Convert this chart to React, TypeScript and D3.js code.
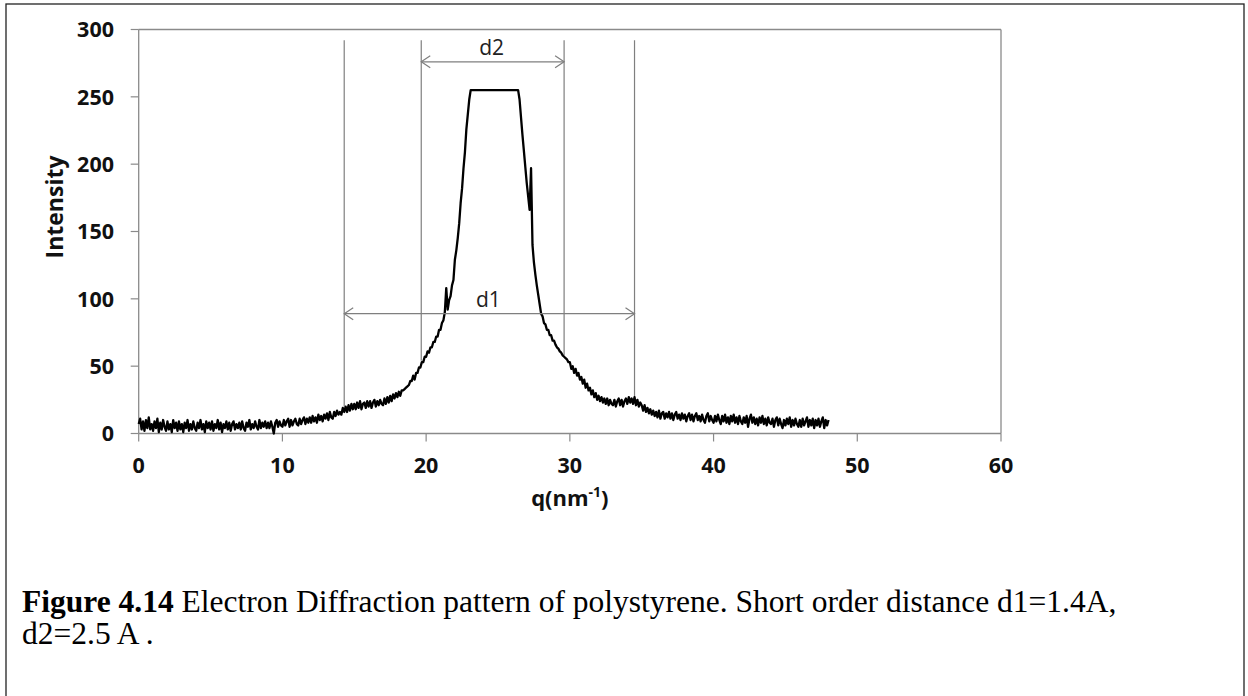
import React from "react";
import * as d3 from "d3";

// ---------- data ----------
const xTicks = [0, 10, 20, 30, 40, 50, 60];
const yTicks = [0, 50, 100, 150, 200, 250, 300];
const qStart = 0;
const qStepSize = 0.1;
const intensity = [
  7, 11, 3, 9, 2, 10, 4, 12, 3, 7,
  2, 9, 4, 11, 1, 8, 3, 10, 5, 2,
  9, 3, 7, 1, 10, 4, 8, 2, 9, 3,
  7, 1, 8, 4, 10, 2, 7, 3, 9, 4,
  2, 8, 4, 10, 3, 7, 1, 9, 4, 8,
  3, 9, 2, 7, 4, 10, 3, 8, 1, 7,
  4, 9, 3, 8, 2, 7, 9, 3, 7, 4,
  8, 3, 9, 4, 2, 8, 5, 10, 3, 7,
  4, 9, 5, 3, 10, 4, 8, 5, 9, 4,
  8, 4, 9, 5, 0, 8, 10, 5, 9, 6,
  5, 10, 6, 9, 11, 5, 10, 6, 9, 11,
  7, 6, 11, 7, 10, 12, 7, 11, 8, 12,
  8, 13, 9, 12, 8, 14, 10, 13, 9, 14,
  11, 15, 10, 16, 12, 11, 16, 13, 17, 14,
  16, 14, 19, 16, 20, 16, 21, 17, 22, 18,
  22, 18, 23, 19, 24, 18, 22, 23, 19, 24,
  20, 24, 19, 23, 25, 20, 24, 21, 25, 22,
  21, 26, 22, 27, 23, 28, 24, 29, 26, 30,
  27, 31, 28, 32, 32, 33, 34, 35, 36, 39,
  39, 43, 40, 45, 45, 49, 49, 53, 53, 57,
  57, 61, 60, 64, 64, 68, 68, 72, 72, 77,
  77, 82, 84, 90, 108, 92, 99, 102, 110, 114,
  129, 136, 145, 156, 171, 182, 197, 209, 226, 237,
  248, 255, 255, 255, 255, 255, 255, 255, 255, 255,
  255, 255, 255, 255, 255, 255, 255, 255, 255, 255,
  255, 255, 255, 255, 255, 255, 255, 255, 255, 255,
  255, 255, 255, 255, 255, 248, 235, 222, 210, 198,
  186, 176, 166, 197, 140, 127, 118, 110, 103, 96,
  89, 87, 82, 81, 77, 77, 73, 73, 69, 69,
  66, 64, 63, 61, 60, 58, 57, 56, 55, 53,
  53, 48, 50, 45, 48, 43, 45, 40, 42, 37,
  40, 34, 37, 32, 34, 29, 32, 27, 30, 25,
  28, 24, 27, 23, 26, 22, 26, 21, 25, 22,
  21, 25, 20, 24, 26, 21, 25, 20, 24, 26,
  22, 27, 23, 26, 22, 27, 21, 25, 20, 23,
  21, 17, 21, 16, 19, 15, 18, 14, 17, 13,
  16, 12, 17, 11, 15, 16, 11, 15, 12, 16,
  11, 15, 10, 14, 16, 11, 14, 10, 15, 11,
  14, 9, 13, 15, 10, 14, 9, 13, 15, 10,
  13, 9, 14, 10, 8, 13, 15, 9, 13, 10,
  8, 13, 9, 14, 10, 7, 13, 9, 14, 8,
  12, 7, 13, 9, 14, 8, 12, 7, 13, 9,
  7, 12, 8, 13, 5, 11, 14, 8, 12, 7,
  11, 6, 12, 8, 13, 7, 11, 6, 12, 8,
  7, 11, 5, 10, 12, 6, 11, 7, 4, 10,
  6, 11, 7, 12, 5, 10, 6, 11, 7, 5,
  10, 5, 11, 6, 9, 12, 5, 10, 6, 11,
  4, 10, 6, 11, 5, 9, 12, 4, 10, 6,
  10,
];
// vertical marker lines: q position, value where they meet the curve
const markerQ = [14.3, 19.66, 29.6, 34.5];
const markerBottom = [20, 54, 58, 23];
const markerTop = 292;
// dimension arrows
const arrowLabels = ["d2", "d1"];
const arrowFrom = [19.66, 14.3];
const arrowTo = [29.6, 34.5];
const arrowLevel = [276, 89];
const arrowLabelLevel = [281, 94];

const captionBold = "Figure 4.14";
const captionLine1 = " Electron Diffraction pattern of polystyrene. Short order distance d1=1.4A,";
const captionLine2 = "d2=2.5 A .";

// ---------- layout ----------
const W = 1248;
const H = 696;
const left = 138.7;
const right = 1001;
const top = 29.5;
const bottom = 433.5;
const axisGray = "#8a8a8a";
const markGray = "#7f7f7f";
const sans = "'Open Sans', 'DejaVu Sans', sans-serif";
const serif = "'Liberation Serif', 'Times New Roman', serif";

export default function App() {
  const x = d3.scaleLinear().domain([0, 60]).range([left, right]);
  const y = d3.scaleLinear().domain([0, 300]).range([bottom, top]);
  const qOf = (i: number) => qStart + i * qStepSize;
  const line = d3
    .line<number>()
    .x((_, i) => x(qOf(i)))
    .y((d) => y(d));

  const arrowHead = (px: number, py: number, dir: number) =>
    `M${px + dir * 9},${py - 6} L${px},${py} L${px + dir * 9},${py + 6}`;

  return (
    <svg
      width={W}
      height={H}
      style={{ position: "absolute", left: 0, top: 0, background: "#fff" }}
    >
      <rect x={0} y={0} width={W} height={H} fill="#fff" />
      {/* outer page frame */}
      <rect x={6} y={4} width={1238} height={720} fill="none" stroke="#222" strokeWidth={1.3} />

      {/* plot frame */}
      <line x1={left} y1={top} x2={right} y2={top} stroke={axisGray} strokeWidth={1.3} />
      <line x1={right} y1={top} x2={right} y2={bottom} stroke={axisGray} strokeWidth={1.3} />
      <line x1={left} y1={top} x2={left} y2={bottom} stroke={axisGray} strokeWidth={1.3} />
      <line x1={left} y1={bottom} x2={right} y2={bottom} stroke={axisGray} strokeWidth={1.3} />

      {/* y ticks */}
      {yTicks.map((t) => (
        <g key={"y" + t}>
          <line x1={left - 8} x2={left} y1={y(t)} y2={y(t)} stroke={axisGray} strokeWidth={1.2} />
          <text
            x={114}
            y={y(t)}
            dy="0.36em"
            textAnchor="end"
            fontFamily={sans}
            fontWeight={700}
            fontSize={21.5}
            fill="#111"
          >
            {t}
          </text>
        </g>
      ))}
      {/* x ticks */}
      {xTicks.map((t) => (
        <g key={"x" + t}>
          <line x1={x(t)} x2={x(t)} y1={bottom} y2={bottom + 8} stroke={axisGray} strokeWidth={1.2} />
          <text
            x={x(t)}
            y={473}
            textAnchor="middle"
            fontFamily={sans}
            fontWeight={700}
            fontSize={21.5}
            fill="#111"
          >
            {t}
          </text>
        </g>
      ))}

      {/* axis titles */}
      <text
        transform={`translate(63,207) rotate(-90)`}
        textAnchor="middle"
        fontFamily={sans}
        fontWeight={700}
        fontSize={23}
        fill="#111"
      >
        Intensity
      </text>
      <text x={x(30)} y={506} textAnchor="middle" fontFamily={sans} fontWeight={700} fontSize={22} fill="#111">
        q(nm
        <tspan fontSize={14} dy={-9}>
          -1
        </tspan>
        <tspan dy={9}>)</tspan>
      </text>

      {/* marker lines */}
      {markerQ.map((q, i) => (
        <line
          key={"m" + i}
          x1={x(q)}
          x2={x(q)}
          y1={y(markerTop)}
          y2={y(markerBottom[i])}
          stroke={markGray}
          strokeWidth={1.2}
        />
      ))}

      {/* data curve */}
      <path d={line(intensity) || ""} fill="none" stroke="#000" strokeWidth={2.3} strokeLinejoin="round" />

      {/* dimension arrows */}
      {arrowLabels.map((lab, i) => {
        const x1 = x(arrowFrom[i]);
        const x2 = x(arrowTo[i]);
        const yy = y(arrowLevel[i]);
        return (
          <g key={lab}>
            <line x1={x1} x2={x2} y1={yy} y2={yy} stroke={markGray} strokeWidth={1.2} />
            <path d={arrowHead(x1, yy, 1)} fill="none" stroke={markGray} strokeWidth={1.2} />
            <path d={arrowHead(x2, yy, -1)} fill="none" stroke={markGray} strokeWidth={1.2} />
            <text
              x={(x1 + x2) / 2 - 1}
              y={y(arrowLabelLevel[i])}
              textAnchor="middle"
              fontFamily={sans}
              fontSize={21}
              fill="#222"
            >
              {lab}
            </text>
          </g>
        );
      })}

      {/* caption */}
      <text x={22} y={612} fontFamily={serif} fontSize={31.5} fill="#000">
        <tspan fontWeight={700}>{captionBold}</tspan>
        <tspan>{captionLine1}</tspan>
      </text>
      <text x={22} y={644} fontFamily={serif} fontSize={31.5} fill="#000">
        {captionLine2}
      </text>
    </svg>
  );
}
